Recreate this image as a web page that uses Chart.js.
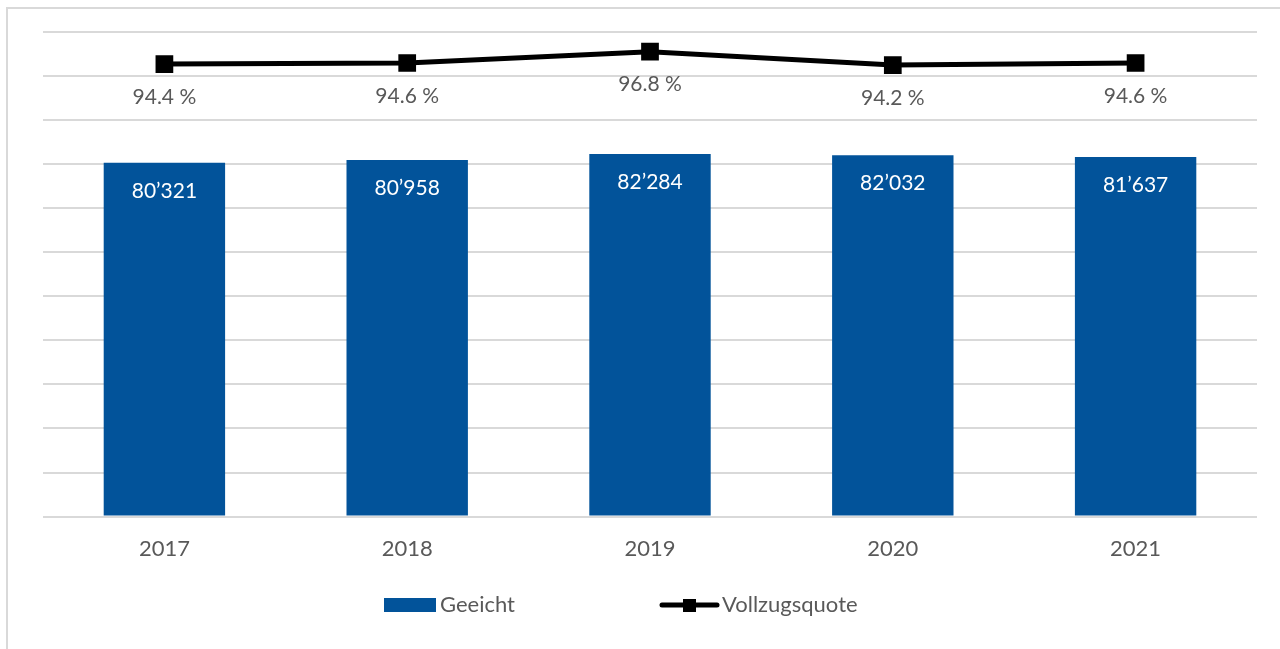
<!DOCTYPE html>
<html lang="de">
  <head>
    <meta charset="UTF-8" />
    <title>Geeicht / Vollzugsquote</title>
    <script src="https://cdn.jsdelivr.net/npm/chart.js"></script>
    <style>
      body {
        margin: 0;
        padding: 0;
        background: #ffffff;
      }
      canvas {
        display: block;
      }
    </style>
  </head>
  <body>
    <canvas id="chart" width="1280" height="649"></canvas>

    <script>
      const years = ["2017", "2018", "2019", "2020", "2021"];
      const geeicht = [80321, 80958, 82284, 82032, 81637];
      const quote = [94.4, 94.6, 96.8, 94.2, 94.6];

      const blue = "#02539a";
      const textGray = "#595959";
      const gridGray = "#d9d9d9";
      const font = "Lato, 'Open Sans', sans-serif";
      const fontSize = 21;
      const axisFontSize = 22;

      function fmtThousands(v) {
        return String(v).replace(/\B(?=(\d{3})+(?!\d))/g, "\u2019");
      }

      // outer frame like the Excel chart area
      const framePlugin = {
        id: "frame",
        beforeDraw(chart) {
          const ctx = chart.ctx;
          ctx.save();
          ctx.strokeStyle = gridGray;
          ctx.lineWidth = 2;
          ctx.strokeRect(7, 8, 1400, 800);
          ctx.restore();
        },
      };

      // value labels on bars and under line points
      const labelPlugin = {
        id: "valueLabels",
        afterDatasetsDraw(chart) {
          const ctx = chart.ctx;
          ctx.save();
          ctx.font = fontSize + "px " + font;
          ctx.textAlign = "center";
          ctx.textBaseline = "middle";

          const bars = chart.getDatasetMeta(0).data;
          ctx.fillStyle = "#ffffff";
          bars.forEach((el, i) => {
            ctx.fillText(fmtThousands(geeicht[i]), el.x, el.y + 28);
          });

          const pts = chart.getDatasetMeta(1).data;
          ctx.fillStyle = textGray;
          pts.forEach((el, i) => {
            ctx.fillText(quote[i].toFixed(1) + " %", el.x, el.y + 33);
          });
          ctx.restore();
        },
      };

      // legend drawn below the axis, Excel style
      const legendPlugin = {
        id: "excelLegend",
        afterDraw(chart) {
          const ctx = chart.ctx;
          const a = chart.chartArea;
          const cx = (a.left + a.right) / 2;
          const y = 605;
          ctx.save();
          ctx.font = axisFontSize + "px " + font;
          ctx.textBaseline = "middle";
          ctx.textAlign = "left";

          // bar item
          ctx.fillStyle = chart.data.datasets[0].backgroundColor;
          ctx.fillRect(cx - 266, y - 7, 52, 14);
          ctx.fillStyle = textGray;
          ctx.fillText(chart.data.datasets[0].label, cx - 210, y);

          // line item
          const lx = cx + 12;
          ctx.strokeStyle = "#000000";
          ctx.lineWidth = 5;
          ctx.lineCap = "round";
          ctx.beginPath();
          ctx.moveTo(lx, y);
          ctx.lineTo(lx + 55, y);
          ctx.stroke();
          ctx.fillStyle = "#000000";
          ctx.fillRect(lx + 21, y - 6, 13, 13);
          ctx.fillStyle = textGray;
          ctx.fillText(chart.data.datasets[1].label, lx + 60, y);
          ctx.restore();
        },
      };

      new Chart(document.getElementById("chart"), {
        data: {
          labels: years,
          datasets: [
            {
              type: "bar",
              label: "Geeicht",
              data: geeicht,
              yAxisID: "y",
              backgroundColor: blue,
              categoryPercentage: 1,
              barPercentage: 0.5,
              order: 1,
            },
            {
              type: "line",
              label: "Vollzugsquote",
              data: quote,
              yAxisID: "y2",
              borderColor: "#000000",
              backgroundColor: "#000000",
              borderWidth: 5,
              pointStyle: "rect",
              pointRadius: 9,
              pointHoverRadius: 9,
              tension: 0,
              order: 0,
            },
          ],
        },
        options: {
          responsive: false,
          animation: false,
          layout: {
            padding: { left: 43, right: 23, top: 32, bottom: 68 },
          },
          scales: {
            x: {
              grid: { display: false, drawTicks: false },
              border: { display: false },
              ticks: {
                color: textGray,
                font: { family: font, size: axisFontSize },
                padding: 19,
              },
            },
            y: {
              min: 0,
              max: 110000,
              ticks: { stepSize: 10000, display: false },
              grid: { color: gridGray, lineWidth: 2, drawTicks: false },
              border: { display: false },
            },
            y2: {
              display: false,
              min: 6.24,
              max: 100.64,
            },
          },
          plugins: {
            legend: { display: false },
            tooltip: { enabled: false },
          },
        },
        plugins: [framePlugin, labelPlugin, legendPlugin],
      });
    </script>
  </body>
</html>
